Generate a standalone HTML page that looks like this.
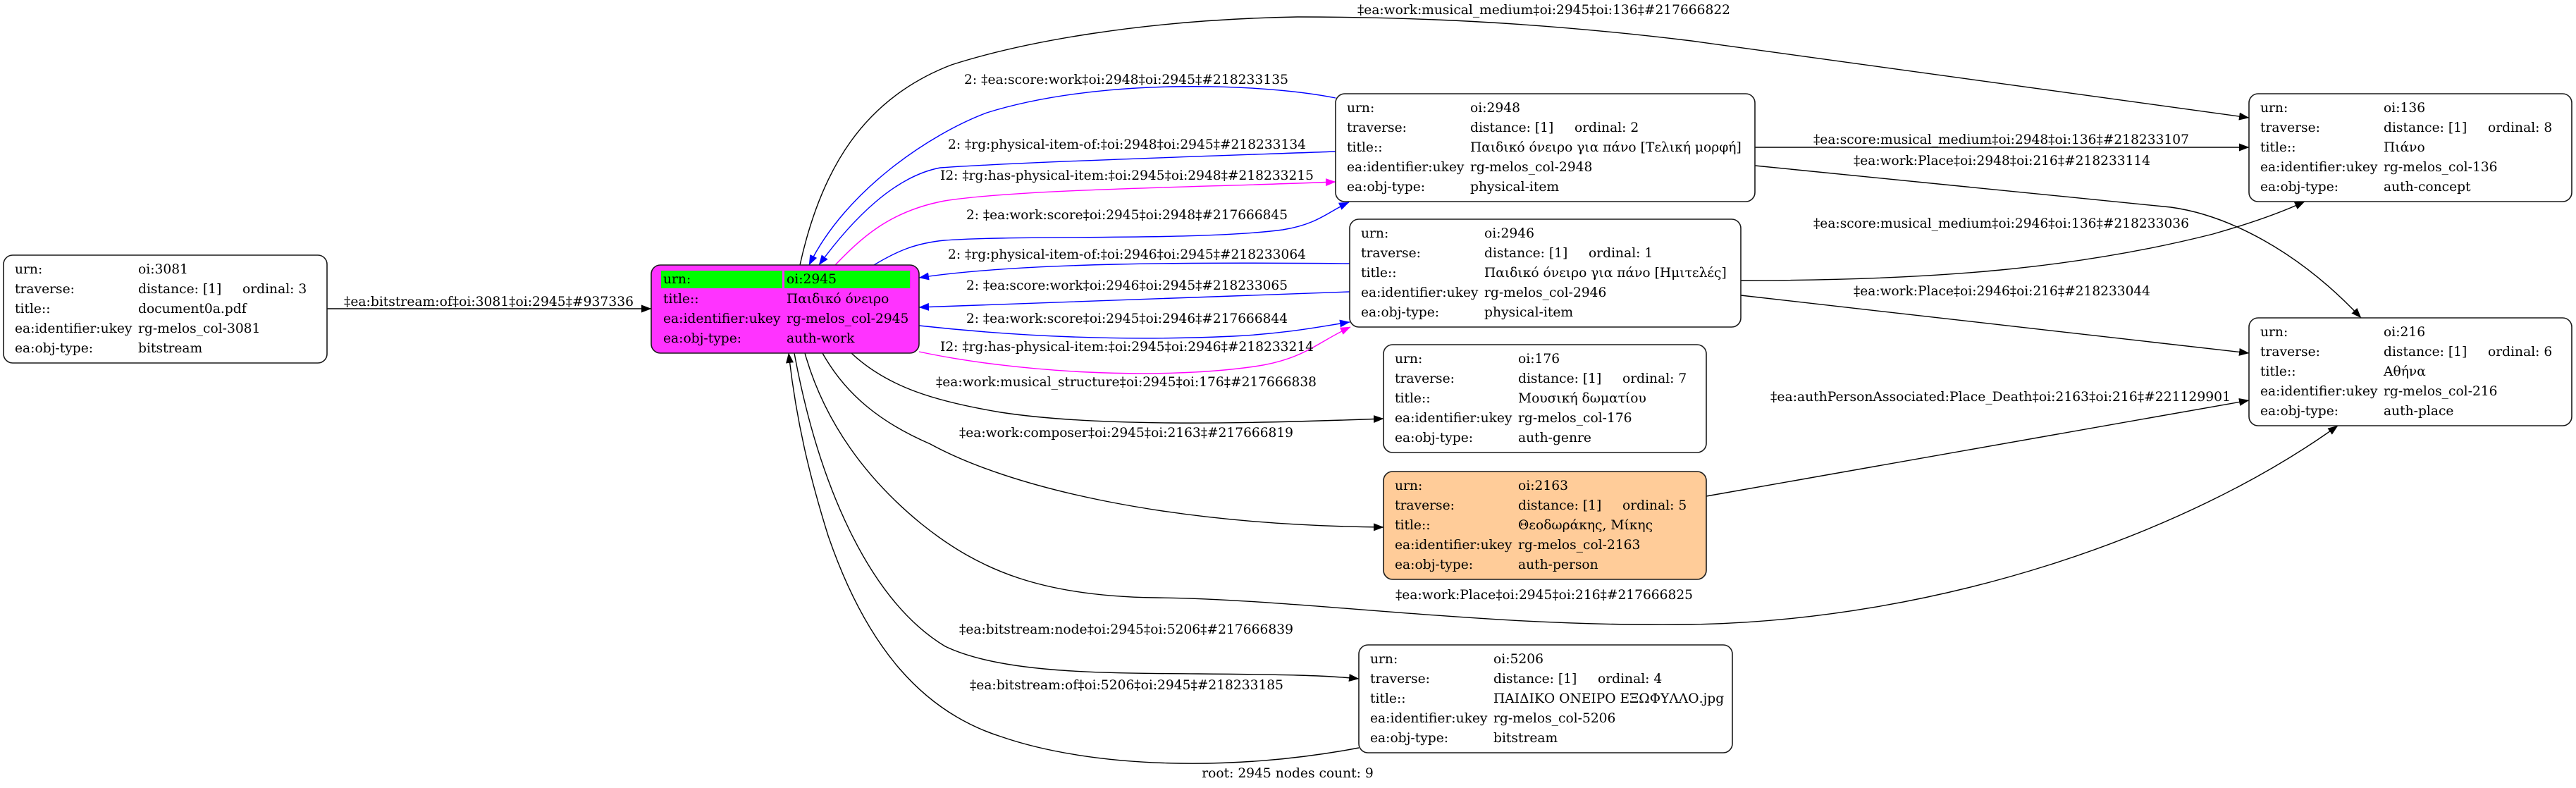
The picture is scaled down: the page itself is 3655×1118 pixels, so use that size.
<!DOCTYPE html>
<html>
<head>
<meta charset="utf-8">
<style>
  html, body { margin: 0; padding: 0; background: #ffffff; }
  svg { display: block; }
  text { font-family: "DejaVu Serif", "Liberation Serif", serif; font-size: 18.67px; fill: #000; }
</style>
</head>
<body>
<svg xmlns="http://www.w3.org/2000/svg" width="3655" height="1118" viewBox="0 0 3655 1118">
  <defs>
    <marker id="ak" markerUnits="userSpaceOnUse" markerWidth="15" markerHeight="12" viewBox="0 0 15 12" refX="14" refY="6" orient="auto">
      <path d="M0,0.5 L14.5,6 L0,11.5 z" fill="#000"/>
    </marker>
    <marker id="ab" markerUnits="userSpaceOnUse" markerWidth="15" markerHeight="12" viewBox="0 0 15 12" refX="14" refY="6" orient="auto">
      <path d="M0,0.5 L14.5,6 L0,11.5 z" fill="#0000ff"/>
    </marker>
    <marker id="am" markerUnits="userSpaceOnUse" markerWidth="15" markerHeight="12" viewBox="0 0 15 12" refX="14" refY="6" orient="auto">
      <path d="M0,0.5 L14.5,6 L0,11.5 z" fill="#ff00ff"/>
    </marker>
  </defs>
  <rect x="0" y="0" width="3655" height="1118" fill="#ffffff"/>

  <!-- ================= EDGES ================= -->
  <g fill="none" stroke-width="1.4">
    <!-- black -->
    <path d="M464,438 L924,438" stroke="#000" marker-end="url(#ak)"/>
    <path d="M1135,376 C1165,240 1225,140 1350,92 C1450,60 1620,28 1841,24 C1990,24 2170,30 2400,58 L3191,167" stroke="#000" marker-end="url(#ak)"/>
    <path d="M1208,501 C1260,550 1330,570 1420,585 C1550,605 1750,602 1963,594" stroke="#000" marker-end="url(#ak)"/>
    <path d="M1167,501 C1200,560 1250,600 1320,630 C1430,690 1650,745 1963,748" stroke="#000" marker-end="url(#ak)"/>
    <path d="M1142,501 C1170,600 1230,680 1307,743 C1390,810 1480,846 1640,848 C1850,850 2100,890 2400,886 C2750,880 3100,760 3317,604" stroke="#000" marker-end="url(#ak)"/>
    <path d="M1127,501 C1160,680 1230,850 1341,917 C1420,955 1560,955 1700,956 C1820,957 1880,958 1928,963" stroke="#000" marker-end="url(#ak)"/>
    <path d="M1928,1061 C1750,1095 1550,1090 1420,1045 C1310,1010 1230,920 1175,760 C1150,680 1130,600 1119,501" stroke="#000" marker-end="url(#ak)"/>
    <path d="M2490,209 L3191,209" stroke="#000" marker-end="url(#ak)"/>
    <path d="M2490,235 L3080,294 C3160,305 3260,355 3350,451" stroke="#000" marker-end="url(#ak)"/>
    <path d="M2470,398 C2750,398 2950,380 3140,332 C3200,315 3240,300 3270,286" stroke="#000" marker-end="url(#ak)"/>
    <path d="M2470,419 L3191,501" stroke="#000" marker-end="url(#ak)"/>
    <path d="M2421,704 L3191,568" stroke="#000" marker-end="url(#ak)"/>

    <!-- blue -->
    <path d="M1895,139 C1790,118 1560,110 1400,160 C1320,190 1200,270 1148,376" stroke="#0000ff" marker-end="url(#ab)"/>
    <path d="M1895,215 C1700,222 1450,230 1334,238 C1270,250 1210,310 1162,376" stroke="#0000ff" marker-end="url(#ab)"/>
    <path d="M1240,376 C1275,355 1300,345 1340,341 C1450,333 1700,342 1820,326 C1870,318 1885,300 1914,287" stroke="#0000ff" marker-end="url(#ab)"/>
    <path d="M1915,374 C1700,372 1450,372 1304,394" stroke="#0000ff" marker-end="url(#ab)"/>
    <path d="M1915,414 C1700,422 1450,430 1304,436" stroke="#0000ff" marker-end="url(#ab)"/>
    <path d="M1304,462 C1450,478 1600,484 1750,477 C1830,473 1880,462 1915,457" stroke="#0000ff" marker-end="url(#ab)"/>

    <!-- magenta -->
    <path d="M1185,376 C1220,340 1260,300 1340,285 C1450,268 1700,266 1895,258" stroke="#ff00ff" marker-end="url(#am)"/>
    <path d="M1304,499 C1440,528 1640,540 1780,520 C1850,510 1870,485 1916,464" stroke="#ff00ff" marker-end="url(#am)"/>
  </g>

  <!-- ================= EDGE LABELS ================= -->
  <g>
    <text x="488" y="434" textLength="411" lengthAdjust="spacingAndGlyphs">‡ea:bitstream:of‡oi:3081‡oi:2945‡#937336</text>
    <text x="1926" y="20" textLength="529" lengthAdjust="spacingAndGlyphs">‡ea:work:musical_medium‡oi:2945‡oi:136‡#217666822</text>
    <text x="1368" y="119" textLength="460" lengthAdjust="spacingAndGlyphs">2: ‡ea:score:work‡oi:2948‡oi:2945‡#218233135</text>
    <text x="1345" y="211" textLength="508" lengthAdjust="spacingAndGlyphs">2: ‡rg:physical-item-of:‡oi:2948‡oi:2945‡#218233134</text>
    <text x="1334" y="255" textLength="530" lengthAdjust="spacingAndGlyphs">I2: ‡rg:has-physical-item:‡oi:2945‡oi:2948‡#218233215</text>
    <text x="1371" y="311" textLength="456" lengthAdjust="spacingAndGlyphs">2: ‡ea:work:score‡oi:2945‡oi:2948‡#217666845</text>
    <text x="1345" y="367" textLength="508" lengthAdjust="spacingAndGlyphs">2: ‡rg:physical-item-of:‡oi:2946‡oi:2945‡#218233064</text>
    <text x="1371" y="411" textLength="456" lengthAdjust="spacingAndGlyphs">2: ‡ea:score:work‡oi:2946‡oi:2945‡#218233065</text>
    <text x="1371" y="458" textLength="456" lengthAdjust="spacingAndGlyphs">2: ‡ea:work:score‡oi:2945‡oi:2946‡#217666844</text>
    <text x="1334" y="498" textLength="530" lengthAdjust="spacingAndGlyphs">I2: ‡rg:has-physical-item:‡oi:2945‡oi:2946‡#218233214</text>
    <text x="1328" y="548" textLength="540" lengthAdjust="spacingAndGlyphs">‡ea:work:musical_structure‡oi:2945‡oi:176‡#217666838</text>
    <text x="1361" y="620" textLength="474" lengthAdjust="spacingAndGlyphs">‡ea:work:composer‡oi:2945‡oi:2163‡#217666819</text>
    <text x="1980" y="850" textLength="422" lengthAdjust="spacingAndGlyphs">‡ea:work:Place‡oi:2945‡oi:216‡#217666825</text>
    <text x="1361" y="899" textLength="474" lengthAdjust="spacingAndGlyphs">‡ea:bitstream:node‡oi:2945‡oi:5206‡#217666839</text>
    <text x="1376" y="978" textLength="445" lengthAdjust="spacingAndGlyphs">‡ea:bitstream:of‡oi:5206‡oi:2945‡#218233185</text>
    <text x="2573" y="204" textLength="533" lengthAdjust="spacingAndGlyphs">‡ea:score:musical_medium‡oi:2948‡oi:136‡#218233107</text>
    <text x="2630" y="234" textLength="421" lengthAdjust="spacingAndGlyphs">‡ea:work:Place‡oi:2948‡oi:216‡#218233114</text>
    <text x="2573" y="323" textLength="533" lengthAdjust="spacingAndGlyphs">‡ea:score:musical_medium‡oi:2946‡oi:136‡#218233036</text>
    <text x="2630" y="419" textLength="421" lengthAdjust="spacingAndGlyphs">‡ea:work:Place‡oi:2946‡oi:216‡#218233044</text>
    <text x="2512" y="569" textLength="653" lengthAdjust="spacingAndGlyphs">‡ea:authPersonAssociated:Place_Death‡oi:2163‡oi:216‡#221129901</text>
    <text x="1827" y="1103" text-anchor="middle">root: 2945 nodes count: 9</text>
  </g>

  <!-- ================= NODES ================= -->
  <g stroke="#1a1a1a" stroke-width="1.6">
    <rect x="5" y="362" width="459" height="153" rx="13" ry="13" fill="#ffffff"/>
    <rect x="924" y="376" width="380" height="125" rx="13" ry="13" fill="#ff33ff"/>
    <rect x="1895" y="133" width="595" height="153" rx="13" ry="13" fill="#ffffff"/>
    <rect x="1915" y="311" width="555" height="153" rx="13" ry="13" fill="#ffffff"/>
    <rect x="1963" y="489" width="458" height="153" rx="13" ry="13" fill="#ffffff"/>
    <rect x="1963" y="669" width="458" height="153" rx="13" ry="13" fill="#ffcc99"/>
    <rect x="1928" y="915" width="530" height="153" rx="13" ry="13" fill="#ffffff"/>
    <rect x="3191" y="133" width="458" height="153" rx="13" ry="13" fill="#ffffff"/>
    <rect x="3191" y="451" width="458" height="153" rx="13" ry="13" fill="#ffffff"/>
  </g>

  <!-- green header cells of root node -->
  <rect x="938" y="384" width="172" height="25" fill="#00ff00"/>
  <rect x="1113" y="384" width="178" height="25" fill="#00ff00"/>

  <!-- node 3081 -->
  <g>
    <text x="21" y="388">urn:</text><text x="196" y="388">oi:3081</text>
    <text x="21" y="416">traverse:</text><text x="196" y="416">distance: [1]</text><text x="344" y="416">ordinal: 3</text>
    <text x="21" y="444">title::</text><text x="196" y="444">document0a.pdf</text>
    <text x="21" y="472">ea:identifier:ukey</text><text x="196" y="472">rg-melos_col-3081</text>
    <text x="21" y="500">ea:obj-type:</text><text x="196" y="500">bitstream</text>
  </g>

  <!-- node 2945 (root) -->
  <g>
    <text x="941" y="402">urn:</text><text x="1116" y="402">oi:2945</text>
    <text x="941" y="430">title::</text><text x="1116" y="430">Παιδικό όνειρο</text>
    <text x="941" y="458">ea:identifier:ukey</text><text x="1116" y="458">rg-melos_col-2945</text>
    <text x="941" y="486">ea:obj-type:</text><text x="1116" y="486">auth-work</text>
  </g>

  <!-- node 2948 -->
  <g>
    <text x="1911" y="159">urn:</text><text x="2086" y="159">oi:2948</text>
    <text x="1911" y="187">traverse:</text><text x="2086" y="187">distance: [1]</text><text x="2234" y="187">ordinal: 2</text>
    <text x="1911" y="215">title::</text><text x="2086" y="215">Παιδικό όνειρο για πάνο [Τελική μορφή]</text>
    <text x="1911" y="243">ea:identifier:ukey</text><text x="2086" y="243">rg-melos_col-2948</text>
    <text x="1911" y="271">ea:obj-type:</text><text x="2086" y="271">physical-item</text>
  </g>

  <!-- node 2946 -->
  <g>
    <text x="1931" y="337">urn:</text><text x="2106" y="337">oi:2946</text>
    <text x="1931" y="365">traverse:</text><text x="2106" y="365">distance: [1]</text><text x="2254" y="365">ordinal: 1</text>
    <text x="1931" y="393">title::</text><text x="2106" y="393">Παιδικό όνειρο για πάνο [Ημιτελές]</text>
    <text x="1931" y="421">ea:identifier:ukey</text><text x="2106" y="421">rg-melos_col-2946</text>
    <text x="1931" y="449">ea:obj-type:</text><text x="2106" y="449">physical-item</text>
  </g>

  <!-- node 176 -->
  <g>
    <text x="1979" y="515">urn:</text><text x="2154" y="515">oi:176</text>
    <text x="1979" y="543">traverse:</text><text x="2154" y="543">distance: [1]</text><text x="2302" y="543">ordinal: 7</text>
    <text x="1979" y="571">title::</text><text x="2154" y="571">Μουσική δωματίου</text>
    <text x="1979" y="599">ea:identifier:ukey</text><text x="2154" y="599">rg-melos_col-176</text>
    <text x="1979" y="627">ea:obj-type:</text><text x="2154" y="627">auth-genre</text>
  </g>

  <!-- node 2163 -->
  <g>
    <text x="1979" y="695">urn:</text><text x="2154" y="695">oi:2163</text>
    <text x="1979" y="723">traverse:</text><text x="2154" y="723">distance: [1]</text><text x="2302" y="723">ordinal: 5</text>
    <text x="1979" y="751">title::</text><text x="2154" y="751">Θεοδωράκης, Μίκης</text>
    <text x="1979" y="779">ea:identifier:ukey</text><text x="2154" y="779">rg-melos_col-2163</text>
    <text x="1979" y="807">ea:obj-type:</text><text x="2154" y="807">auth-person</text>
  </g>

  <!-- node 5206 -->
  <g>
    <text x="1944" y="941">urn:</text><text x="2119" y="941">oi:5206</text>
    <text x="1944" y="969">traverse:</text><text x="2119" y="969">distance: [1]</text><text x="2267" y="969">ordinal: 4</text>
    <text x="1944" y="997">title::</text><text x="2119" y="997">ΠΑΙΔΙΚΟ ΟΝΕΙΡΟ ΕΞΩΦΥΛΛΟ.jpg</text>
    <text x="1944" y="1025">ea:identifier:ukey</text><text x="2119" y="1025">rg-melos_col-5206</text>
    <text x="1944" y="1053">ea:obj-type:</text><text x="2119" y="1053">bitstream</text>
  </g>

  <!-- node 136 -->
  <g>
    <text x="3207" y="159">urn:</text><text x="3382" y="159">oi:136</text>
    <text x="3207" y="187">traverse:</text><text x="3382" y="187">distance: [1]</text><text x="3530" y="187">ordinal: 8</text>
    <text x="3207" y="215">title::</text><text x="3382" y="215">Πιάνο</text>
    <text x="3207" y="243">ea:identifier:ukey</text><text x="3382" y="243">rg-melos_col-136</text>
    <text x="3207" y="271">ea:obj-type:</text><text x="3382" y="271">auth-concept</text>
  </g>

  <!-- node 216 -->
  <g>
    <text x="3207" y="477">urn:</text><text x="3382" y="477">oi:216</text>
    <text x="3207" y="505">traverse:</text><text x="3382" y="505">distance: [1]</text><text x="3530" y="505">ordinal: 6</text>
    <text x="3207" y="533">title::</text><text x="3382" y="533">Αθήνα</text>
    <text x="3207" y="561">ea:identifier:ukey</text><text x="3382" y="561">rg-melos_col-216</text>
    <text x="3207" y="589">ea:obj-type:</text><text x="3382" y="589">auth-place</text>
  </g>
</svg>
</body>
</html>
